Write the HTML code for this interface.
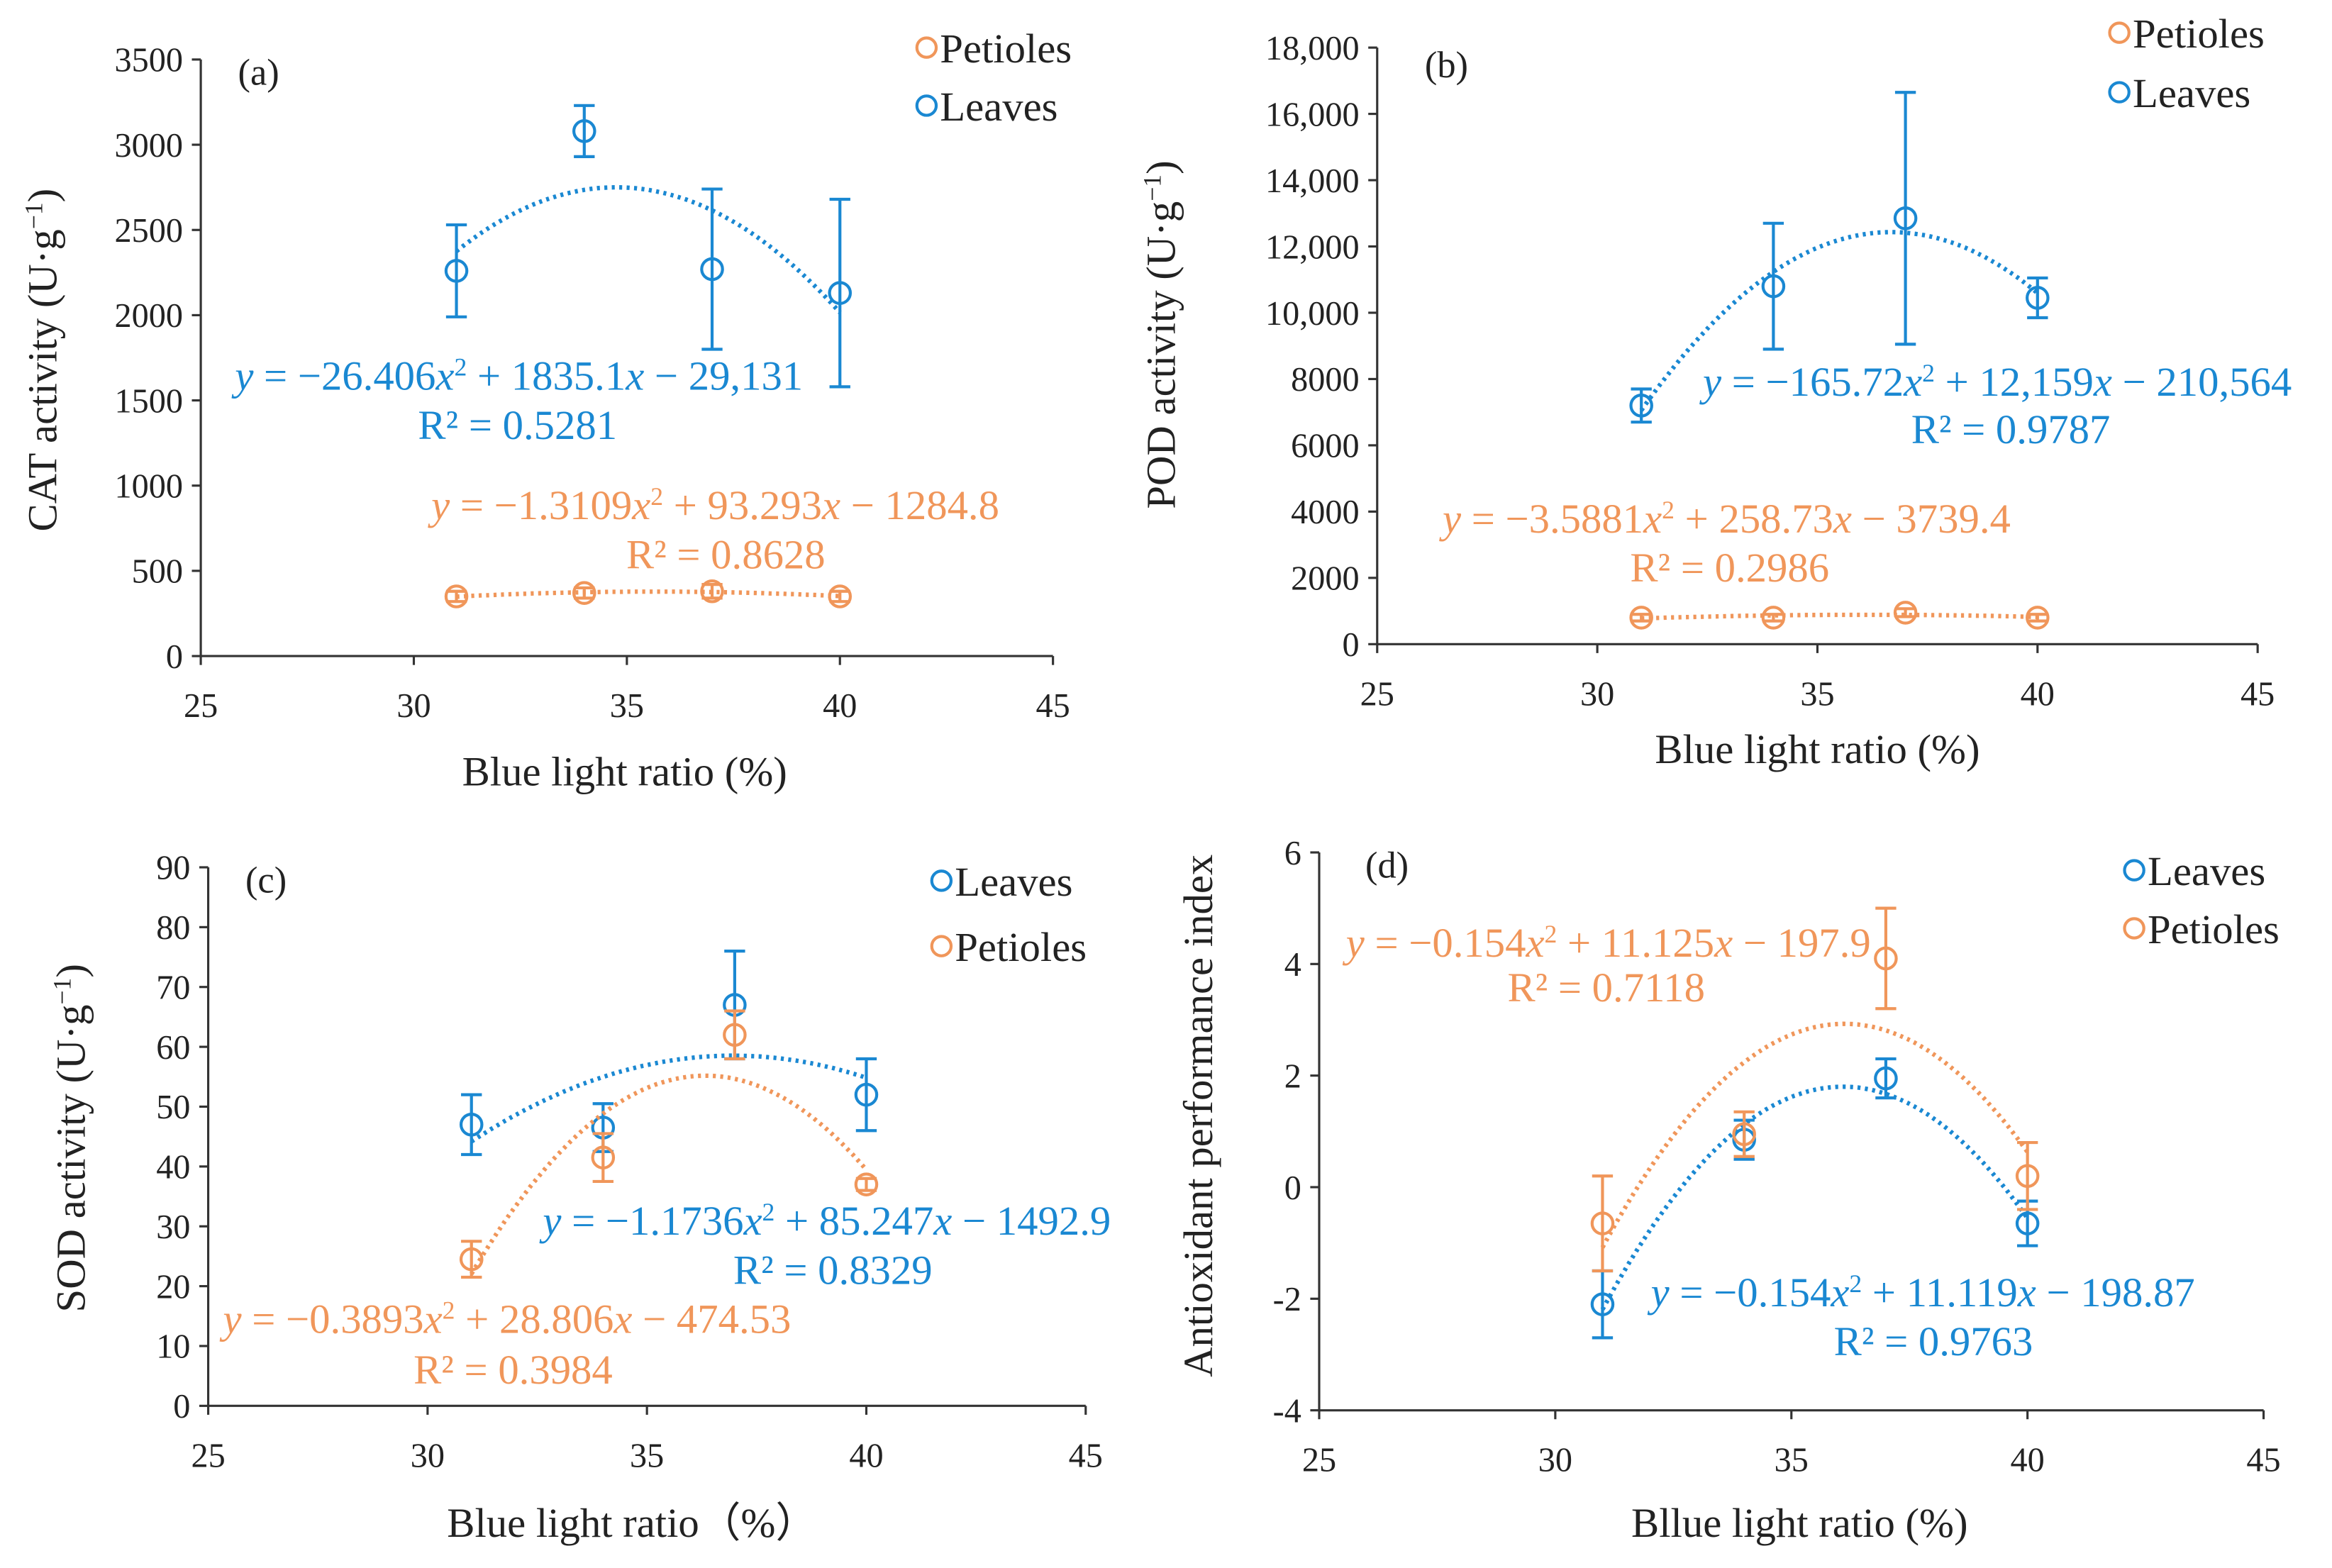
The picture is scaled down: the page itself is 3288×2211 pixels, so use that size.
<!DOCTYPE html>
<html><head><meta charset="utf-8">
<style>
html,body{margin:0;padding:0;background:#fff;}
svg{display:block;font-family:"Liberation Serif",serif;}
</style></head>
<body>
<svg id="chart" width="3288" height="2211" viewBox="0 0 1568 1054" preserveAspectRatio="none" xmlns="http://www.w3.org/2000/svg">
<rect width="1568" height="1054" fill="#fff"/>
</svg>
<script>
const BLUE='#1a88d2', ORANGE='#f0965a';
const xCats=[31,34,37,40];
const xTicks=[25,30,35,40,45];
// Panel a
const aLeaves=[2260,3080,2270,2130];
const aLeavesErr=[270,150,470,550];
const aPetioles=[350,370,380,350];
const aPetiolesErr=[30,30,40,30];
const aYTicks=[0,500,1000,1500,2000,2500,3000,3500];
// Panel b
const bLeaves=[7200,10800,12850,10450];
const bLeavesErr=[500,1900,3800,600];
const bPetioles=[800,800,950,800];
const bPetiolesErr=[100,100,120,100];
const bYTicks=[0,2000,4000,6000,8000,10000,12000,14000,16000,18000];
// Panel c
const cLeaves=[47,46.5,67,52];
const cLeavesErr=[5,4,9,6];
const cPetioles=[24.5,41.5,62,37];
const cPetiolesErr=[3,4,4,1];
const cYTicks=[0,10,20,30,40,50,60,70,80,90];
// Panel d
const dLeaves=[-2.1,0.85,1.95,-0.65];
const dLeavesErr=[0.6,0.35,0.35,0.4];
const dPetioles=[-0.65,0.95,4.1,0.2];
const dPetiolesErr=[0.85,0.4,0.9,0.6];
const dYTicks=[-4,-2,0,2,4,6];

const svg=document.getElementById('chart');
const NS='http://www.w3.org/2000/svg';
function mk(tag,attrs,parent){const e=document.createElementNS(NS,tag);for(const k in attrs)e.setAttribute(k,attrs[k]);(parent||svg).appendChild(e);return e;}
function fmt(v,comma){return comma&&Math.abs(v)>=10000?v.toLocaleString('en-US'):String(v);}
function quadFit(xs,ys){
  let S=[[0,0,0],[0,0,0],[0,0,0]],T=[0,0,0];
  for(let i=0;i<xs.length;i++){const p=[1,xs[i],xs[i]*xs[i]];for(let r=0;r<3;r++){T[r]+=p[r]*ys[i];for(let c=0;c<3;c++)S[r][c]+=p[r]*p[c];}}
  const M=S.map((r,i)=>[...r,T[i]]);
  for(let i=0;i<3;i++){let mx=i;for(let j=i+1;j<3;j++)if(Math.abs(M[j][i])>Math.abs(M[mx][i]))mx=j;[M[i],M[mx]]=[M[mx],M[i]];
    for(let j=0;j<3;j++){if(j===i)continue;const f=M[j][i]/M[i][i];for(let k=i;k<4;k++)M[j][k]-=f*M[i][k];}}
  return [M[0][3]/M[0][0],M[1][3]/M[1][1],M[2][3]/M[2][2]];
}
function text(g,x,y,str,opts){const t=mk('text',Object.assign({x:x,y:y,'font-size':23,fill:'#222'},opts||{}),g);t.textContent=str;return t;}
function eqText(g,x,y,parts,color,anchor){
  const t=mk('text',{x:x,y:y,'font-size':28,fill:color,'text-anchor':anchor||'start'},g);
  parts.forEach(p=>{const s=mk('tspan',p.sup?{'baseline-shift':'super','font-size':17}:(p.it?{'font-style':'italic'}:{}),t);s.textContent=p.t;});
  return t;
}
function eq(a,b,c){return [{t:'y',it:1},{t:' = '+a},{t:'x',it:1},{t:'2',sup:1},{t:' + '+b},{t:'x',it:1},{t:' − '+c}];}

function panel(cfg){
  const g=mk('g',{});
  
  
  const {x0,x1,yTop,yBot,yMin,yMax}=cfg;
  const X=v=>x0+(v-25)/(45-25)*(x1-x0);
  const Y=v=>yBot-(v-yMin)/(yMax-yMin)*(yBot-yTop);
  const axisY=yBot;
  const ya=mk('line',{x1:x0,y1:yTop,x2:x0,y2:yBot,stroke:'#333','stroke-width':1.5},g);
  
  const xa=mk('line',{x1:x0,y1:axisY,x2:x1,y2:axisY,stroke:'#333','stroke-width':1.5},g);
  
  cfg.yTicks.forEach(v=>{mk('line',{x1:x0-6,y1:Y(v),x2:x0,y2:Y(v),stroke:'#333','stroke-width':1.5},g);
    const t=text(g,x0-12,Y(v)+8,fmt(v,cfg.comma),{'text-anchor':'end'});
    });
  xTicks.forEach(v=>{mk('line',{x1:X(v),y1:axisY,x2:X(v),y2:axisY+6,stroke:'#333','stroke-width':1.5},g);
    const t=text(g,X(v),axisY+41,String(v),{'text-anchor':'middle'});
    });
  const xt=text(g,cfg.xTitle[1],cfg.xTitle[2],cfg.xTitle[0],{'text-anchor':'middle','font-size':28});
  
  const ytg=mk('text',{x:0,y:0,'font-size':28,fill:'#222','text-anchor':'middle',transform:`translate(${cfg.yTitle[1]},${cfg.yTitle[2]}) rotate(-90)`},g);
  
  ytg.textContent=cfg.yTitle[0];
  if(cfg.yTitleSup){const s=mk('tspan',{'baseline-shift':'super','font-size':17},ytg);s.textContent='−1';const s2=mk('tspan',{},ytg);s2.textContent=')';}
  const pl=text(g,cfg.label[1],cfg.label[2],cfg.label[0],{'font-size':25});
  
  cfg.series.forEach(s=>{
    const sg=mk('g',{},g);
    
    const [a,b,c]=quadFit(xCats,s.vals);
    let d='';for(let i=0;i<=60;i++){const xv=31+9*i/60;const yv=a+b*xv+c*xv*xv;d+=(i?'L':'M')+X(xv).toFixed(1)+' '+Y(yv).toFixed(1);}
    const tl=mk('path',{d:d,fill:'none',stroke:s.color,'stroke-width':3,'stroke-dasharray':'2 3'},sg);
    
    xCats.forEach((xv,i)=>{
      const v=s.vals[i],e=s.err[i],cx=X(xv);
      const eb=mk('path',{d:`M${cx} ${Y(v+e)}L${cx} ${Y(v-e)}M${cx-7} ${Y(v+e)}L${cx+7} ${Y(v+e)}M${cx-7} ${Y(v-e)}L${cx+7} ${Y(v-e)}`,stroke:s.color,'stroke-width':2,fill:'none'},sg);
      
      const pt=mk('circle',{cx:cx,cy:Y(v),r:7,fill:'none',stroke:s.color,'stroke-width':2},sg);
      
    });
    const et=eqText(g,s.eq[0],s.eq[1],s.eqParts,s.color,'start');
    
    const rt=eqText(g,s.r2[0],s.r2[1],[{t:'R² = '+s.r2[2]}],s.color,'middle');
    
    const lg=mk('g',{},g);
    
    mk('circle',{cx:s.leg[0],cy:s.leg[1],r:6.5,fill:'none',stroke:s.color,'stroke-width':2},lg);
    text(lg,s.leg[0]+9,s.leg[1]+10,s.label,{'font-size':28});
  });
}

panel({name:'panel-a-cat',x0:135,x1:708,yTop:40,yBot:441,yMin:0,yMax:3500,yTicks:aYTicks,
  xTitle:['Blue light ratio (%)',420,528],yTitle:['CAT activity (U·g',38,242],yTitleSup:1,label:['(a)',160,57],
  series:[
   {key:'petioles',label:'Petioles',color:ORANGE,vals:aPetioles,err:aPetiolesErr,leg:[623,32],eq:[290,349],eqParts:eq('−1.3109',"93.293",'1284.8'),r2:[488,382,'0.8628']},
   {key:'leaves',label:'Leaves',color:BLUE,vals:aLeaves,err:aLeavesErr,leg:[623,71],eq:[158,262],eqParts:eq('−26.406','1835.1','29,131'),r2:[348,295,'0.5281']}]});
panel({name:'panel-b-pod',x0:926,x1:1518,yTop:32,yBot:433,yMin:0,yMax:18000,yTicks:bYTicks,comma:1,
  xTitle:['Blue light ratio (%)',1222,513],yTitle:['POD activity (U·g',790,225],yTitleSup:1,label:['(b)',958,52],
  series:[
   {key:'petioles',label:'Petioles',color:ORANGE,vals:bPetioles,err:bPetiolesErr,leg:[1425,22],eq:[970,358],eqParts:eq('−3.5881','258.73','3739.4'),r2:[1163,391,'0.2986']},
   {key:'leaves',label:'Leaves',color:BLUE,vals:bLeaves,err:bLeavesErr,leg:[1425,62],eq:[1145,266],eqParts:eq('−165.72','12,159','210,564'),r2:[1352,298,'0.9787']}]});
panel({name:'panel-c-sod',x0:140,x1:730,yTop:583,yBot:945,yMin:0,yMax:90,yTicks:cYTicks,
  xTitle:['Blue light ratio（%）',425,1033],yTitle:['SOD activity (U·g',57,765],yTitleSup:1,label:['(c)',165,600],
  series:[
   {key:'leaves',label:'Leaves',color:BLUE,vals:cLeaves,err:cLeavesErr,leg:[633,592],eq:[365,830],eqParts:eq('−1.1736','85.247','1492.9'),r2:[560,863,'0.8329']},
   {key:'petioles',label:'Petioles',color:ORANGE,vals:cPetioles,err:cPetiolesErr,leg:[633,636],eq:[150,896],eqParts:eq('−0.3893','28.806','474.53'),r2:[345,930,'0.3984']}]});
panel({name:'panel-d-api',x0:887,x1:1522,yTop:573,yBot:948,yMin:-4,yMax:6,yTicks:dYTicks,
  xTitle:['Bllue light ratio (%)',1210,1033],yTitle:['Antioxidant performance index',815,750],label:['(d)',918,590],
  series:[
   {key:'leaves',label:'Leaves',color:BLUE,vals:dLeaves,err:dLeavesErr,leg:[1435,585],eq:[1110,878],eqParts:eq('−0.154','11.119','198.87'),r2:[1300,911,'0.9763']},
   {key:'petioles',label:'Petioles',color:ORANGE,vals:dPetioles,err:dPetiolesErr,leg:[1435,624],eq:[905,643],eqParts:eq('−0.154','11.125','197.9'),r2:[1080,673,'0.7118']}]});
</script>
</body></html>
